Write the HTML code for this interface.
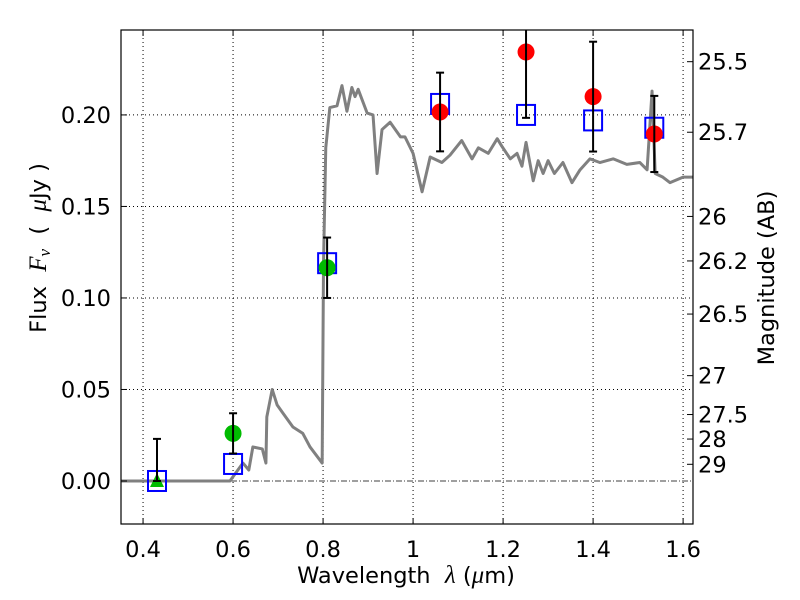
<!DOCTYPE html>
<html><head><meta charset="utf-8"><style>
body{margin:0;background:#fff}
svg{display:block;font-family:"DejaVu Sans","Liberation Sans",sans-serif}
text{white-space:pre}
</style></head><body>
<svg id="chart" width="800" height="600"></svg>
<script>
const sedLambda=[0.351,0.593,0.622,0.635,0.644,0.665,0.673,0.675,0.687,0.698,0.711,0.733,0.755,0.771,0.798,0.801,0.806,0.815,0.831,0.842,0.853,0.864,0.871,0.878,0.898,0.911,0.920,0.931,0.949,0.972,0.982,1.000,1.020,1.038,1.064,1.082,1.108,1.131,1.145,1.167,1.187,1.197,1.216,1.231,1.242,1.251,1.267,1.278,1.289,1.300,1.314,1.333,1.353,1.371,1.393,1.415,1.445,1.475,1.504,1.520,1.531,1.538,1.555,1.571,1.600,1.622];
const sedFlux=[0,0,0.0098,0.006,0.0186,0.0175,0.0098,0.035,0.050,0.0415,0.037,0.0295,0.026,0.0186,0.0098,0.119,0.182,0.204,0.205,0.216,0.202,0.215,0.210,0.214,0.201,0.200,0.168,0.192,0.196,0.188,0.188,0.179,0.158,0.177,0.174,0.178,0.186,0.176,0.182,0.179,0.187,0.183,0.176,0.179,0.172,0.185,0.164,0.175,0.168,0.175,0.168,0.174,0.163,0.170,0.176,0.174,0.176,0.173,0.174,0.170,0.213,0.168,0.166,0.163,0.166,0.166];
const modelLambda=[0.431,0.600,0.809,1.060,1.251,1.400,1.536];
const modelFlux=[0.0,0.0093,0.119,0.206,0.200,0.197,0.193];
const greenLambda=[0.600,0.809];
const greenFlux=[0.026,0.1165];
const greenErr=[0.011,0.0165];
const limitLambda=[0.431];
const limitFlux=[0.0];
const limitErrTop=[0.023];
const redLambda=[1.060,1.251,1.400,1.536];
const redFlux=[0.2016,0.2344,0.210,0.1896];
const redErr=[0.0215,0.036,0.030,0.0208];
const xTicks=[0.4,0.6,0.8,1.0,1.2,1.4,1.6];
const xTickLabels=["0.4","0.6","0.8","1","1.2","1.4","1.6"];
const yTicks=[0,0.05,0.10,0.15,0.20];
const yTickLabels=["0.00","0.05","0.10","0.15","0.20"];
const magTicks=[25.5,25.7,26,26.2,26.5,27,27.5,28,29];
const magTickLabels=["25.5","25.7","26","26.2","26.5","27","27.5","28","29"];

const L=121,R=693,T=30,B=524;
const xmin=0.351,xmax=1.622,ymin=-0.0235,ymax=0.2464;
const X=v=>L+(v-xmin)/(xmax-xmin)*(R-L);
const Y=v=>B-(v-ymin)/(ymax-ymin)*(B-T);
const svg=document.getElementById('chart');
const NS='http://www.w3.org/2000/svg';
function mk(tag,attrs,parent){const e=document.createElementNS(NS,tag);for(const k in attrs)e.setAttribute(k,attrs[k]);(parent||svg).appendChild(e);return e;}

const clip=mk('clipPath',{id:'pc'});mk('rect',{x:L,y:T,width:R-L,height:B-T},clip);

xTicks.forEach((t,i)=>{const g=mk('line',{x1:X(t),x2:X(t),y1:T,y2:B,stroke:'#000','stroke-width':1,'stroke-dasharray':'1,3'});

});
yTicks.forEach(t=>{if(t===0)return;const g=mk('line',{x1:L,x2:R,y1:Y(t),y2:Y(t),stroke:'#000','stroke-width':1,'stroke-dasharray':'1,3'});

});
const zl=mk('line',{x1:L,x2:R,y1:Y(0),y2:Y(0),stroke:'#000','stroke-width':0.8,'stroke-dasharray':'6,2,1,2'});



const sed=mk('polyline',{points:sedLambda.map((l,i)=>X(l)+','+Y(sedFlux[i])).join(' '),fill:'none',stroke:'#808080','stroke-width':3,'clip-path':'url(#pc)','stroke-linejoin':'round'});



modelLambda.forEach((l,i)=>{const s=mk('rect',{x:X(l)-9,y:Y(modelFlux[i])-10,width:18,height:20,fill:'none',stroke:'#0000ff','stroke-width':2});

});

function errbar(x,lo,hi){const g=mk('g',{stroke:'#000','stroke-width':2,'clip-path':'url(#pc)'});


mk('line',{x1:x,x2:x,y1:Y(lo),y2:Y(hi)},g);mk('line',{x1:x-4,x2:x+4,y1:Y(lo),y2:Y(lo)},g);mk('line',{x1:x-4,x2:x+4,y1:Y(hi),y2:Y(hi)},g);}

limitLambda.forEach((l,i)=>{const x=X(l),y=Y(limitFlux[i]);
const t=mk('polygon',{points:`${x},${y-8} ${x-7},${y+6} ${x+7},${y+6}`,fill:'#00bb00'});


errbar(x,limitFlux[i],limitFlux[i]+limitErrTop[i]);});
greenLambda.forEach((l,i)=>{const c=mk('circle',{cx:X(l),cy:Y(greenFlux[i]),r:8.5,fill:'#00bb00'});


errbar(X(l),greenFlux[i]-greenErr[i],greenFlux[i]+greenErr[i]);});
redLambda.forEach((l,i)=>{const c=mk('circle',{cx:X(l),cy:Y(redFlux[i]),r:8.5,fill:'#ff0000'});


errbar(X(l),redFlux[i]-redErr[i],redFlux[i]+redErr[i]);});

const fr=mk('rect',{x:L,y:T,width:R-L,height:B-T,fill:'none',stroke:'#000','stroke-width':1.2});



xTicks.forEach((t,i)=>{mk('line',{x1:X(t),x2:X(t),y1:B,y2:B-6,stroke:'#000'});mk('line',{x1:X(t),x2:X(t),y1:T,y2:T+6,stroke:'#000'});
const tx=mk('text',{x:X(t),y:557,'text-anchor':'middle','font-size':22.5});tx.textContent=xTickLabels[i];

});
yTicks.forEach((t,i)=>{mk('line',{x1:L,x2:L+6,y1:Y(t),y2:Y(t),stroke:'#000'});
const tx=mk('text',{x:111,y:Y(t)+8,'text-anchor':'end','font-size':22.5});tx.textContent=yTickLabels[i];

});
magTicks.forEach((m,i)=>{const f=Math.pow(10,-(m-23.9)/2.5);const y=Y(f);
mk('line',{x1:R,x2:R-6,y1:y,y2:y,stroke:'#000'});
const tx=mk('text',{x:698,y:y+8,'font-size':22.5});tx.textContent=magTickLabels[i];

});

const xt=mk('text',{x:406,y:583,'text-anchor':'middle','font-size':22.5});
xt.innerHTML='Wavelength\u00a0\u00a0<tspan font-family="Liberation Serif" font-style="italic" font-size="25">λ</tspan>\u00a0(<tspan font-family="Liberation Serif" font-style="italic" font-size="25">μ</tspan>m)';


const yt=mk('text',{transform:'translate(46,248) rotate(-90)','text-anchor':'middle','font-size':22.5});
yt.innerHTML='Flux\u00a0\u00a0<tspan font-family="Liberation Serif" font-style="italic" font-size="25">F</tspan><tspan font-family="Liberation Serif" font-style="italic" font-size="17" dy="4">ν</tspan><tspan dy="-4">\u00a0\u00a0(\u00a0\u00a0</tspan><tspan font-family="Liberation Serif" font-style="italic" font-size="25">μ</tspan>Jy\u00a0)';


const rt=mk('text',{transform:'translate(774,278) rotate(-90)','text-anchor':'middle','font-size':22.5});
rt.textContent='Magnitude (AB)';


</script>
</body></html>
